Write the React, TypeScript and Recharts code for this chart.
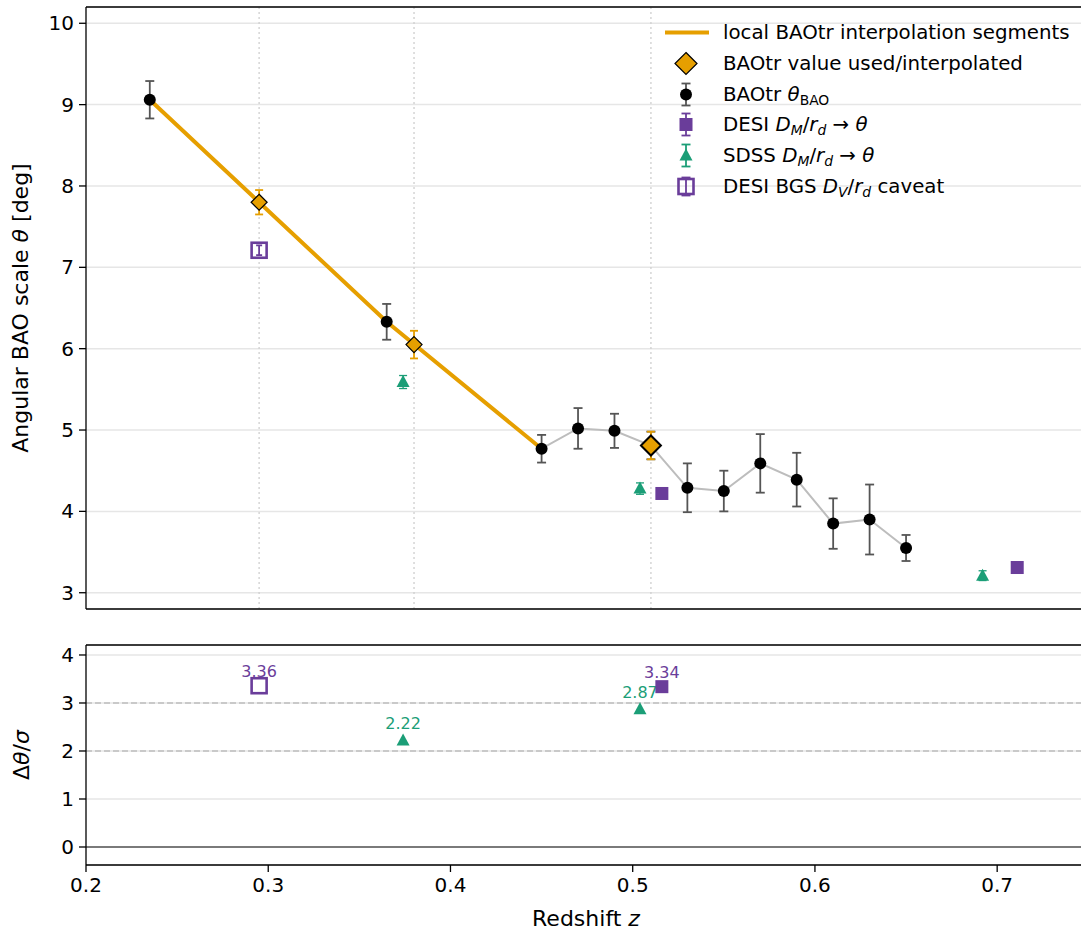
import React from 'react'
import {
  ComposedChart, Scatter, Line, XAxis, YAxis, CartesianGrid, ReferenceLine, ErrorBar
} from 'recharts'

const ORANGE = '#e69f00'
const PURPLE = '#6a3d9a'
const GREEN = '#1b9e77'
const ERR_GRAY = '#555555'
const FONT = '"DejaVu Sans", sans-serif'

// BAOtr transverse measurements
const baoZ = [0.235, 0.365, 0.45, 0.47, 0.49, 0.51, 0.53, 0.55, 0.57, 0.59, 0.61, 0.63, 0.65]
const baoTheta = [9.06, 6.33, 4.77, 5.02, 4.99, 4.81, 4.29, 4.25, 4.59, 4.39, 3.85, 3.9, 3.55]
const baoErr = [0.23, 0.22, 0.17, 0.25, 0.21, 0.17, 0.3, 0.25, 0.36, 0.33, 0.31, 0.43, 0.16]

// nodes of the local interpolation segments
const segZ = [0.235, 0.365, 0.45]

// BAOtr values interpolated / used directly
const interpZ = [0.295, 0.38]
const interpTheta = [7.8, 6.05]
const interpErr = [0.15, 0.17]
const usedZ = [0.51]
const usedTheta = [4.81]
const usedErr = [0.17]

// DESI D_M/r_d -> theta
const desiZ = [0.516, 0.711]
const desiTheta = [4.22, 3.31]
const desiErr = [0.04, 0.04]

// SDSS D_M/r_d -> theta
const sdssZ = [0.374, 0.504, 0.692]
const sdssTheta = [5.59, 4.28, 3.21]
const sdssErr = [0.08, 0.07, 0.06]

// DESI BGS D_V/r_d (caveat)
const bgsZ = [0.295]
const bgsTheta = [7.21]
const bgsErr = [0.06]

// tension in sigma
const tenBgsZ = [0.295]
const tenBgs = [3.36]
const tenSdssZ = [0.374, 0.504]
const tenSdss = [2.22, 2.87]
const tenDesiZ = [0.516]
const tenDesi = [3.34]

const xTicks = [0.2, 0.3, 0.4, 0.5, 0.6, 0.7]
const topTicks = [3, 4, 5, 6, 7, 8, 9, 10]
const botTicks = [0, 1, 2, 3, 4]

const X_DOM: [number, number] = [0.2, 0.746]
const TOP_DOM: [number, number] = [2.8, 10.2]
const BOT_DOM: [number, number] = [-0.375, 4.208]

const pts = (zs: number[], ys: number[], es: number[]) =>
  zs.map((z, i) => ({ z, theta: ys[i], err: es[i] }))
const sig = (zs: number[], ys: number[]) => zs.map((z, i) => ({ z, sig: ys[i] }))

const baoData = pts(baoZ, baoTheta, baoErr)
const segData = baoData.filter(d => segZ.includes(d.z))
const grayData = baoData.filter(d => d.z >= segZ[segZ.length - 1])
const interpData = pts(interpZ, interpTheta, interpErr)
const usedData = pts(usedZ, usedTheta, usedErr)
const desiData = pts(desiZ, desiTheta, desiErr)
const sdssData = pts(sdssZ, sdssTheta, sdssErr)
const bgsData = pts(bgsZ, bgsTheta, bgsErr)
const markZ = [...interpZ, ...usedZ]

const tick = { fontSize: 20, fontFamily: FONT, fill: '#000' }

const circleShape = (p: any) => <circle cx={p.cx} cy={p.cy} r={6} fill="#000" />
const diamond = (r: number, sw: number) => (p: any) => (
  <polygon
    points={`${p.cx},${p.cy - r} ${p.cx + r},${p.cy} ${p.cx},${p.cy + r} ${p.cx - r},${p.cy}`}
    fill={ORANGE} stroke="#000" strokeWidth={sw}
  />
)
const squareShape = (p: any) => <rect x={p.cx - 6.5} y={p.cy - 6.5} width={13} height={13} fill={PURPLE} />
const triShape = (p: any) => (
  <polygon points={`${p.cx},${p.cy - 7} ${p.cx + 6.5},${p.cy + 5} ${p.cx - 6.5},${p.cy + 5}`} fill={GREEN} />
)
const openSquare = (p: any) => (
  <rect x={p.cx - 7.5} y={p.cy - 7.5} width={15} height={15} fill="none" stroke={PURPLE} strokeWidth={2.6} />
)

const labelled = (shape: (p: any) => any, color: string, dy: number) => (p: any) => (
  <g>
    {shape(p)}
    <text x={p.cx} y={p.cy - dy} textAnchor="middle" fontSize={16} fontFamily={FONT} fill={color}>
      {p.payload.sig.toFixed(2)}
    </text>
  </g>
)
const openSquareWhite = (p: any) => (
  <rect x={p.cx - 7.5} y={p.cy - 7.5} width={15} height={15} fill="#fff" stroke={PURPLE} strokeWidth={2.6} />
)

const YTitleTop = () => (
  <text transform="translate(28,308) rotate(-90)" textAnchor="middle" fontSize={22} fontFamily={FONT} fill="#000">
    Angular BAO scale <tspan fontStyle="italic">θ</tspan> [deg]
  </text>
)
const YTitleBot = () => (
  <text transform="translate(29,115) rotate(-90)" textAnchor="middle" fontSize={22} fontFamily={FONT} fill="#000">
    Δ<tspan fontStyle="italic">θ</tspan>/<tspan fontStyle="italic">σ</tspan>
  </text>
)
const XTitle = () => (
  <text x={586} y={286} textAnchor="middle" fontSize={22} fontFamily={FONT} fill="#000">
    Redshift <tspan fontStyle="italic">z</tspan>
  </text>
)

const sub: React.CSSProperties = { fontSize: '0.7em', verticalAlign: '-0.3em', lineHeight: 0 }
const Ratio = ({ q }: { q: string }) => (
  <>
    <i>D</i><span style={sub}><i>{q}</i></span>/<i>r</i><span style={sub}><i>d</i></span>
  </>
)

const Caps = ({ color, h }: { color: string; h: number }) => (
  <g stroke={color} strokeWidth={1.8}>
    <line x1={23} x2={23} y1={15.5 - h} y2={15.5 + h} />
    <line x1={18.5} x2={27.5} y1={15.5 - h} y2={15.5 - h} />
    <line x1={18.5} x2={27.5} y1={15.5 + h} y2={15.5 + h} />
  </g>
)

const legendRows: { icon: React.ReactNode; text: React.ReactNode }[] = [
  { icon: <line x1={2} x2={46} y1={15.5} y2={15.5} stroke={ORANGE} strokeWidth={4} />, text: 'local BAOtr interpolation segments' },
  { icon: diamond(11, 1.2)({ cx: 23, cy: 15.5 }), text: 'BAOtr value used/interpolated' },
  { icon: <><Caps color={ERR_GRAY} h={11} />{circleShape({ cx: 23, cy: 15.5 })}</>, text: <>BAOtr <i>θ</i><span style={sub}>BAO</span></> },
  { icon: <><Caps color={PURPLE} h={11} />{squareShape({ cx: 23, cy: 15.5 })}</>, text: <>DESI <Ratio q="M" /> → <i>θ</i></> },
  { icon: <><Caps color={GREEN} h={11} />{triShape({ cx: 23, cy: 15.5 })}</>, text: <>SDSS <Ratio q="M" /> → <i>θ</i></> },
  { icon: <><Caps color={PURPLE} h={9} />{openSquare({ cx: 23, cy: 15.5 })}</>, text: <>DESI BGS <Ratio q="V" /> caveat</> },
]

const LegendBox = () => (
  <div style={{ position: 'absolute', left: 663, top: 17, fontFamily: FONT, fontSize: 19.8, color: '#000' }}>
    {legendRows.map((r, i) => (
      <div key={i} style={{ position: 'absolute', top: i * 30.8, left: 0, height: 31, display: 'flex', alignItems: 'center', whiteSpace: 'nowrap' }}>
        <svg width={48} height={31} style={{ display: 'block' }}>{r.icon}</svg>
        <span style={{ marginLeft: 12 }}>{r.text}</span>
      </div>
    ))}
  </div>
)

export default function App() {
  return (
    <div style={{ position: 'absolute', left: 0, top: 0, width: 1081, height: 931, background: '#fff' }}>
      <ComposedChart width={1081} height={640} margin={{ top: 7, right: 0, left: 0, bottom: 0 }}>
        <CartesianGrid vertical={false} stroke="#e6e6e6" strokeWidth={1.5} />
        <XAxis type="number" dataKey="z" domain={X_DOM} ticks={xTicks} allowDataOverflow
          tick={false} tickSize={7} height={31} stroke="#000" strokeWidth={1.3} />
        <YAxis type="number" dataKey="theta" domain={TOP_DOM} ticks={topTicks} allowDataOverflow
          width={86} tick={tick} tickSize={7} tickMargin={5} stroke="#000" strokeWidth={1.3}
          label={<YTitleTop />} />
        {markZ.map(z => (
          <ReferenceLine key={z} x={z} stroke="#cfcfcf" strokeWidth={1.3} strokeDasharray="2 3" />
        ))}
        <ReferenceLine y={TOP_DOM[1]} stroke="#000" strokeWidth={1.3} />
        <Line data={segData} dataKey="theta" type="linear" stroke={ORANGE} strokeWidth={4} dot={false} isAnimationActive={false} />
        <Line data={grayData} dataKey="theta" type="linear" stroke="#bdbdbd" strokeWidth={2} dot={false} isAnimationActive={false} />
        <Scatter data={baoData} shape={circleShape} isAnimationActive={false}>
          <ErrorBar dataKey="err" direction="y" width={4.5} stroke={ERR_GRAY} strokeWidth={1.8} />
        </Scatter>
        <Scatter data={bgsData} shape={openSquare} isAnimationActive={false}>
          <ErrorBar dataKey="err" direction="y" width={3} stroke={PURPLE} strokeWidth={1.8} />
        </Scatter>
        <Scatter data={sdssData} shape={triShape} isAnimationActive={false}>
          <ErrorBar dataKey="err" direction="y" width={4} stroke={GREEN} strokeWidth={1.3} />
        </Scatter>
        <Scatter data={desiData} shape={squareShape} isAnimationActive={false}>
          <ErrorBar dataKey="err" direction="y" width={4} stroke={PURPLE} strokeWidth={1.3} />
        </Scatter>
        <Scatter data={interpData} shape={diamond(8, 1.2)} isAnimationActive={false}>
          <ErrorBar dataKey="err" direction="y" width={4} stroke={ORANGE} strokeWidth={1.8} />
        </Scatter>
        <Scatter data={usedData} shape={diamond(10, 2)} isAnimationActive={false}>
          <ErrorBar dataKey="err" direction="y" width={4} stroke={ORANGE} strokeWidth={1.8} />
        </Scatter>
      </ComposedChart>

      <ComposedChart width={1081} height={291} margin={{ top: 5, right: 0, left: 0, bottom: 0 }}>
        <CartesianGrid vertical={false} stroke="#e6e6e6" strokeWidth={1.5} />
        <XAxis type="number" dataKey="z" domain={X_DOM} ticks={xTicks} allowDataOverflow
          tick={tick} tickSize={7} tickMargin={6} height={66} stroke="#000" strokeWidth={1.3}
          tickFormatter={(v: number) => v.toFixed(1)} label={<XTitle />} />
        <YAxis type="number" dataKey="sig" domain={BOT_DOM} ticks={botTicks} allowDataOverflow
          width={86} tick={tick} tickSize={7} tickMargin={5} stroke="#000" strokeWidth={1.3}
          label={<YTitleBot />} />
        <ReferenceLine y={BOT_DOM[1]} stroke="#000" strokeWidth={1.3} />
        <ReferenceLine y={3} stroke="#bdbdbd" strokeWidth={1.3} strokeDasharray="6 3" />
        <ReferenceLine y={2} stroke="#bdbdbd" strokeWidth={1.3} strokeDasharray="6 3" />
        <ReferenceLine y={0} stroke="#555" strokeWidth={1.5} />
        <Scatter data={sig(tenBgsZ, tenBgs)} shape={labelled(openSquareWhite, PURPLE, 9)} isAnimationActive={false} />
        <Scatter data={sig(tenSdssZ, tenSdss)} shape={labelled(triShape, GREEN, 11)} isAnimationActive={false} />
        <Scatter data={sig(tenDesiZ, tenDesi)} shape={labelled(squareShape, PURPLE, 9)} isAnimationActive={false} />
      </ComposedChart>

      <LegendBox />
    </div>
  )
}
